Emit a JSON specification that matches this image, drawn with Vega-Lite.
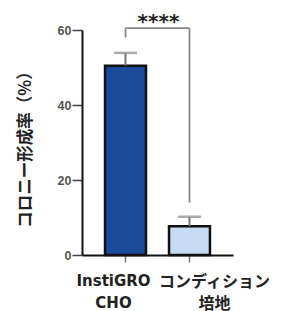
{
  "$schema": "https://vega.github.io/schema/vega-lite/v6.json",
  "autosize": {"type": "none"},
  "padding": {"left": 82, "top": 30, "right": 49, "bottom": 56},
  "width": 151,
  "height": 225,
  "background": "white",
  "config": {"view": {"stroke": null}},
  "datasets": {
    "bars": [
      {"group": "InstiGRO CHO", "mean": 50.5, "upper": 53.9},
      {"group": "コンディション 培地", "mean": 7.7, "upper": 10.2}
    ],
    "bracket": [
      {"group": "InstiGRO CHO", "low": 58, "high": 60.5},
      {"group": "コンディション 培地", "low": 14, "high": 60.5}
    ],
    "bar_h": [
      {"from": "InstiGRO CHO", "to": "コンディション 培地", "y": 60.5}
    ],
    "stars": [
      {"group": "InstiGRO CHO", "y": 63.7, "label": "****"}
    ]
  },
  "encoding": {
    "x": {
      "field": "group",
      "type": "nominal",
      "sort": null,
      "scale": {"domain": ["InstiGRO CHO", "コンディション 培地"], "paddingInner": 0.36, "paddingOuter": 0.36},
      "axis": {
        "title": null,
        "labelAngle": 0,
        "domainColor": "#111",
        "domainWidth": 2,
        "tickColor": "#777",
        "tickWidth": 1.5,
        "tickSize": 7,
        "labelFont": "DejaVu Sans, Noto Sans CJK JP",
        "labelFontSize": {"condition": {"test": "datum.value == 'InstiGRO CHO'", "value": 15}, "value": 16},
        "labelOffset": {"condition": {"test": "datum.value == 'InstiGRO CHO'", "value": -12}, "value": 25},
        "labelFontWeight": "bold",
        "labelColor": "#222",
        "labelPadding": 11,
        "labelLineHeight": 22,
        "labelBaseline": "top",
        "labelOverlap": false,
        "labelExpr": "split(datum.label, ' ')"
      }
    }
  },
  "layer": [
    {
      "data": {"name": "bars"},
      "mark": {"type": "bar", "stroke": "#111", "strokeWidth": 2.5},
      "encoding": {
        "y": {
          "field": "mean",
          "type": "quantitative",
          "scale": {"domain": [0, 60], "nice": false},
          "axis": {
            "title": "コロニー形成率（%）",
            "titleFont": "Noto Sans CJK JP",
            "titleFontSize": 16.5,
            "titleFontWeight": "bold",
            "titleColor": "#222",
            "titleX": -57,
            "titleY": 115,
            "titleAngle": -90,
            "titleAlign": "center",
            "titleBaseline": "middle",
            "values": [0, 20, 40, 60],
            "grid": false,
            "domainColor": "#111",
            "domainWidth": 2,
            "tickColor": "#444",
            "tickWidth": 1.5,
            "tickSize": 10,
            "labelFont": "Liberation Sans",
            "labelFontSize": 12.5,
            "labelFontWeight": "bold",
            "labelColor": "#555",
            "labelPadding": 1
          }
        },
        "color": {
          "field": "group",
          "type": "nominal",
          "scale": {"domain": ["InstiGRO CHO", "コンディション 培地"], "range": ["#1c4a9b", "#c6dbf1"]},
          "legend": null
        }
      }
    },
    {
      "data": {"name": "bars"},
      "mark": {"type": "rule", "color": "#777", "strokeWidth": 2},
      "encoding": {
        "y": {"field": "mean", "type": "quantitative"},
        "y2": {"field": "upper"}
      }
    },
    {
      "data": {"name": "bars"},
      "mark": {"type": "tick", "color": "#888", "thickness": 2.5, "size": 23, "orient": "horizontal"},
      "encoding": {
        "y": {"field": "upper", "type": "quantitative"}
      }
    },
    {
      "data": {"name": "bracket"},
      "mark": {"type": "rule", "color": "#888", "strokeWidth": 1.8, "clip": false},
      "encoding": {
        "y": {"field": "low", "type": "quantitative"},
        "y2": {"field": "high"}
      }
    },
    {
      "data": {"name": "bar_h"},
      "mark": {"type": "rule", "color": "#888", "strokeWidth": 1.8, "clip": false},
      "encoding": {
        "x": {"field": "from", "type": "nominal"},
        "x2": {"field": "to"},
        "y": {"field": "y", "type": "quantitative"}
      }
    },
    {
      "data": {"name": "stars"},
      "mark": {"type": "text", "font": "DejaVu Sans", "fontSize": 20, "fontWeight": "bold", "color": "#222", "dx": 33, "dy": 6, "baseline": "middle"},
      "encoding": {
        "y": {"field": "y", "type": "quantitative"},
        "text": {"field": "label"}
      }
    }
  ]
}
